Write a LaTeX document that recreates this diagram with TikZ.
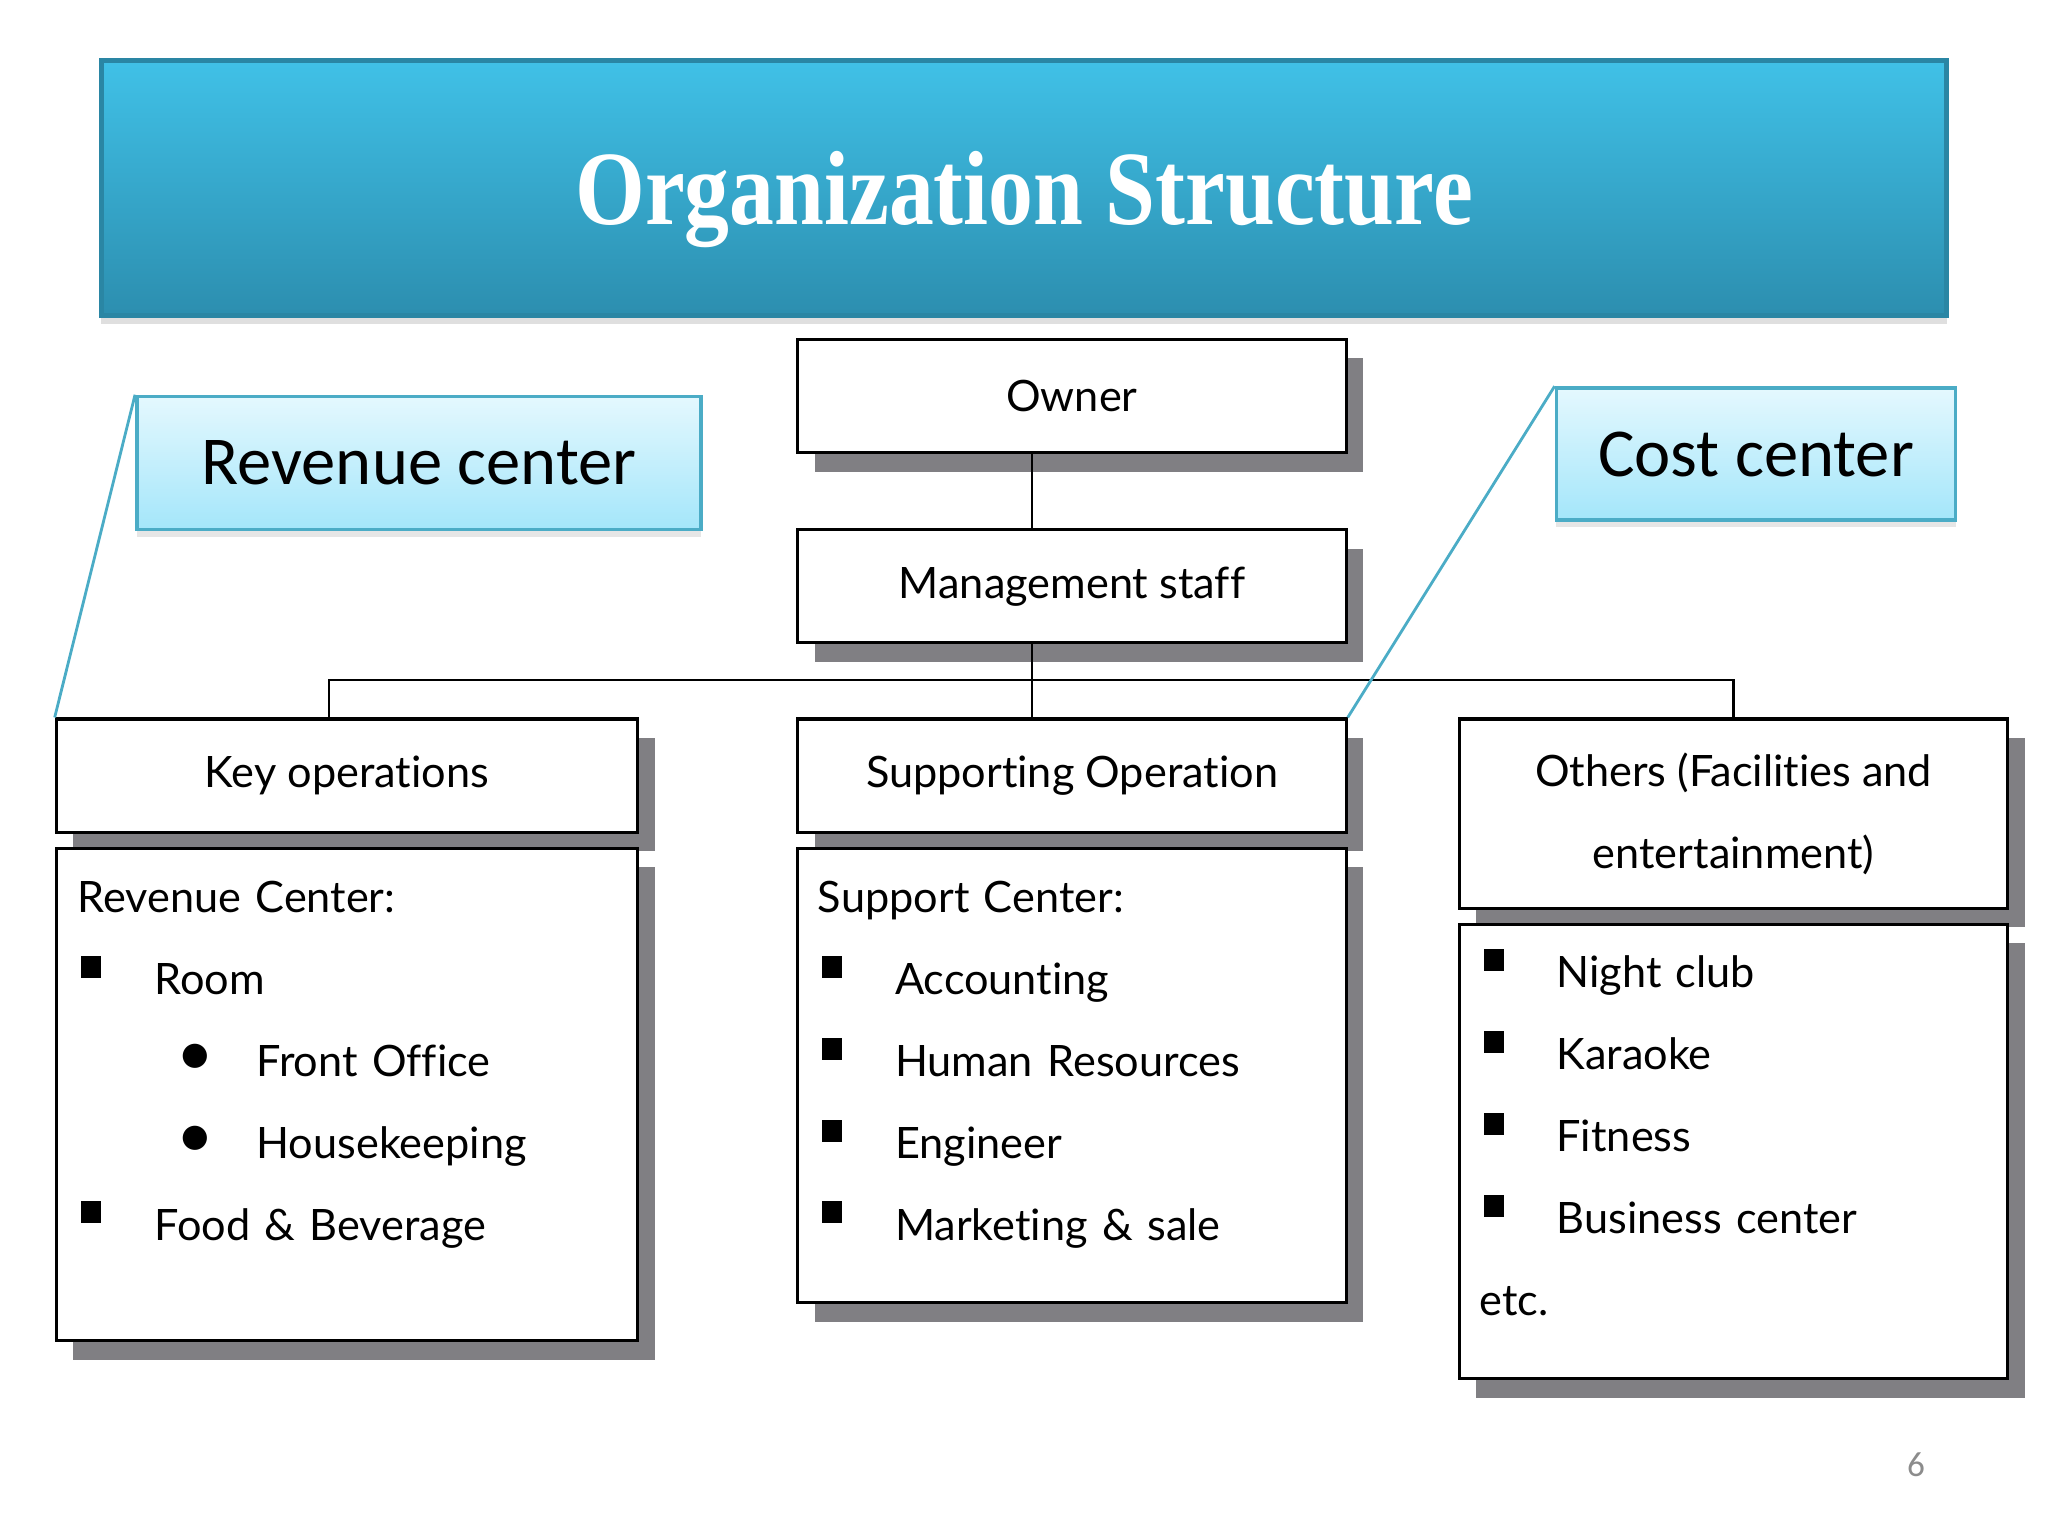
\documentclass[tikz,border=0pt]{standalone}
\usepackage{fontspec}
\setmainfont{Lato}[Ligatures=NoCommon]
\newfontfamily\calloutfont{Carlito}
\newfontfamily\titlefont{Liberation Serif}[FakeStretch=0.85]
\newfontfamily\symbolfont{DejaVu Sans}
\usepackage[dvipsnames]{xcolor}
\definecolor{colorBannerTop}{HTML}{40C1E7}
\definecolor{colorBannerBot}{HTML}{2C8EAF}
\definecolor{colorBannerLine}{HTML}{2A86A4}
\definecolor{colorCalloutTop}{HTML}{E4F8FE}
\definecolor{colorCalloutBot}{HTML}{A4E6FA}
\definecolor{colorCalloutLine}{HTML}{4BACC6}
\definecolor{colorShadow}{HTML}{807F83}
\definecolor{colorPage}{HTML}{8C8C8C}
\usepackage{tikz}
\usetikzlibrary{positioning, shadows}
\tikzset{
  banner/.style={draw=colorBannerLine, line width=1.2pt, top color=colorBannerTop, bottom color=colorBannerBot, minimum width=18.44cm, minimum height=2.55cm, inner sep=0pt, text=white, text depth=0pt, font=\titlefont\bfseries\fontsize{30pt}{36pt}\selectfont, drop shadow={shadow xshift=0pt, shadow yshift=-0.08cm, opacity=0.25}},
  orgbox/.style={draw, line width=0.9pt, fill=white, inner sep=0pt, minimum width=5.48cm, minimum height=1.13cm, align=center, font=\fontsize{12.3pt}{23.3pt}\selectfont, general shadow={fill=colorShadow, shadow xshift=0.17cm, shadow yshift=-0.19cm}},
  listtext/.style={anchor=base west, inner sep=0pt, text width=5.3cm, align=left, font=\fontsize{12.3pt}{23.3pt}\selectfont},
  callout/.style={draw=colorCalloutLine, line width=1pt, top color=colorCalloutTop, bottom color=colorCalloutBot, inner sep=0pt, font=\calloutfont\fontsize{19.5pt}{23pt}\selectfont, drop shadow={shadow xshift=0pt, shadow yshift=-0.07cm, opacity=0.2}},
  orgline/.style={line width=0.8pt},
  calloutlink/.style={draw=colorCalloutLine, line width=0.8pt},
}
\newcommand{\sqbul}{\makebox[0.77cm][l]{\hspace{0.04cm}\rule[0.17cm]{0.2cm}{0.22cm}}}
\newcommand{\dotbul}{\hspace*{1.04cm}\makebox[0.75cm][l]{\raisebox{0.12cm}{\symbolfont\fontsize{9pt}{9pt}\selectfont ●}}}

\begin{document}
\begin{tikzpicture}[x=0.01cm, y=-0.01cm]
\useasboundingbox (0,0) rectangle (2048,1536);
\node[banner] (title) at (1024,188) {Organization Structure};

\node[orgbox] (owner) at (1072,396) {Owner};
\node[orgbox, below=0.74cm of owner] (mgmt) {Management staff};
\node[orgbox, below=0.73cm of mgmt] (suppop) {Supporting Operation};
\node[orgbox, left=1.57cm of suppop, minimum width=5.81cm] (keyop) {Key operations};
\node[orgbox, right=1.10cm of suppop.north east, anchor=north west, minimum height=1.89cm] (others) {Others (Facilities and\\entertainment)};

\node[orgbox, below=0.13cm of keyop, minimum width=5.81cm, minimum height=4.92cm] (revbox) {};
\node[orgbox, below=0.13cm of suppop, minimum height=4.54cm] (suppbox) {};
\node[orgbox, below=0.13cm of others, minimum height=4.54cm] (othbox) {};

\node[listtext] (revtext) at ([xshift=0.22cm, yshift=-0.66cm]revbox.north west) {Revenue Center:\\\sqbul Room\\\dotbul Front Office\\\dotbul Housekeeping\\\sqbul Food \& Beverage};
\node[listtext] (supptext) at ([xshift=0.21cm, yshift=-0.66cm]suppbox.north west) {Support Center:\\\sqbul Accounting\\\sqbul Human Resources\\\sqbul Engineer\\\sqbul Marketing \& sale};
\node[listtext] (othtext) at ([xshift=0.21cm, yshift=-0.65cm]othbox.north west) {\sqbul Night club\\\sqbul Karaoke\\\sqbul Fitness\\\sqbul Business center\\etc.};

\coordinate (bus) at (1032,680);
\draw[orgline] (owner.south -| bus) -- (mgmt.north -| bus);
\draw[orgline] (mgmt.south -| bus) -- (suppop.north -| bus);
\draw[orgline] ([xshift=-0.18cm]keyop.north) |- (bus) -| (others.north);

\node[callout, minimum width=5.64cm, minimum height=1.33cm] (revcall) at (419,463) {Revenue center};
\node[callout, minimum width=3.99cm, minimum height=1.32cm] (costcall) at (1756,454) {Cost center};
\draw[calloutlink] (revcall.north west) -- (keyop.north west);
\draw[calloutlink] (costcall.north west) -- (suppop.north east);

\node[text=colorPage, font=\calloutfont\fontsize{10pt}{12pt}\selectfont] (pageno) at (1916,1465) {6};
\end{tikzpicture}
\end{document}
